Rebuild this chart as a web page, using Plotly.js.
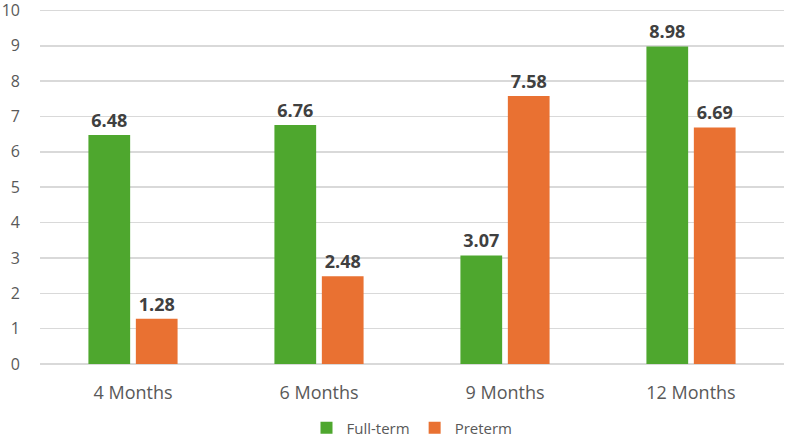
<!DOCTYPE html>
<html>
<head>
<meta charset="utf-8">
<script src="https://cdn.plot.ly/plotly-3.0.1.min.js"></script>
<style>
  html, body { margin: 0; padding: 0; background: #fff; }
  #chart { width: 786px; height: 445px; }
</style>
</head>
<body>
<div id="chart"></div>
<script>
// Age groups on the x axis
const categories = ["4 Months", "6 Months", "9 Months", "12 Months"];
// Scores per group
const fullTerm = [6.48, 6.76, 3.07, 8.98];
const preterm = [1.28, 2.48, 7.58, 6.69];
const yTicks = [0, 1, 2, 3, 4, 5, 6, 7, 8, 9, 10];

const labelFont = { family: "Open Sans, Noto Sans, sans-serif", size: 18, color: "#404040", weight: "bold" };

function series(name, values, color) {
  return {
    type: "bar",
    name: name,
    x: categories,
    y: values,
    marker: { color: color },
    text: values.map(v => v.toFixed(2)),
    textposition: "outside",
    cliponaxis: false,
    textfont: labelFont,
    hoverinfo: "x+y+name"
  };
}

const data = [
  series("Full-term", fullTerm, "#4EA72E"),
  series("Preterm", preterm, "#E97132")
];

const layout = {
  width: 786,
  height: 445,
  margin: { l: 40, r: 2, t: 9, b: 80 },
  paper_bgcolor: "#ffffff",
  plot_bgcolor: "#ffffff",
  font: { family: "Open Sans, Noto Sans, sans-serif", color: "#595959" },
  barmode: "group",
  bargap: 0.49,
  bargroupgap: 0.12,
  showlegend: true,
  legend: {
    orientation: "h",
    x: 0.5, xanchor: "center",
    y: -0.177, yanchor: "middle",
    font: { size: 15, color: "#595959" },
    itemwidth: 30,
    traceorder: "normal"
  },
  xaxis: {
    type: "category",
    tickfont: { size: 18, color: "#595959" },
    showgrid: false,
    showline: false,
    ticks: "",
    ticklen: 0,
    ticklabelstandoff: 16
  },
  yaxis: {
    range: [0, 10.04],
    tickvals: yTicks,
    tickfont: { size: 16, color: "#595959" },
    showgrid: true,
    gridcolor: "#D9D9D9",
    gridwidth: 1.5,
    zeroline: true,
    zerolinecolor: "#D9D9D9",
    zerolinewidth: 1.5,
    showline: false,
    ticks: "",
    ticklabelstandoff: 19,
    ticklabeloverflow: "allow",
    automargin: false
  }
};

Plotly.newPlot("chart", data, layout, { displayModeBar: false, staticPlot: true });
</script>
</body>
</html>
